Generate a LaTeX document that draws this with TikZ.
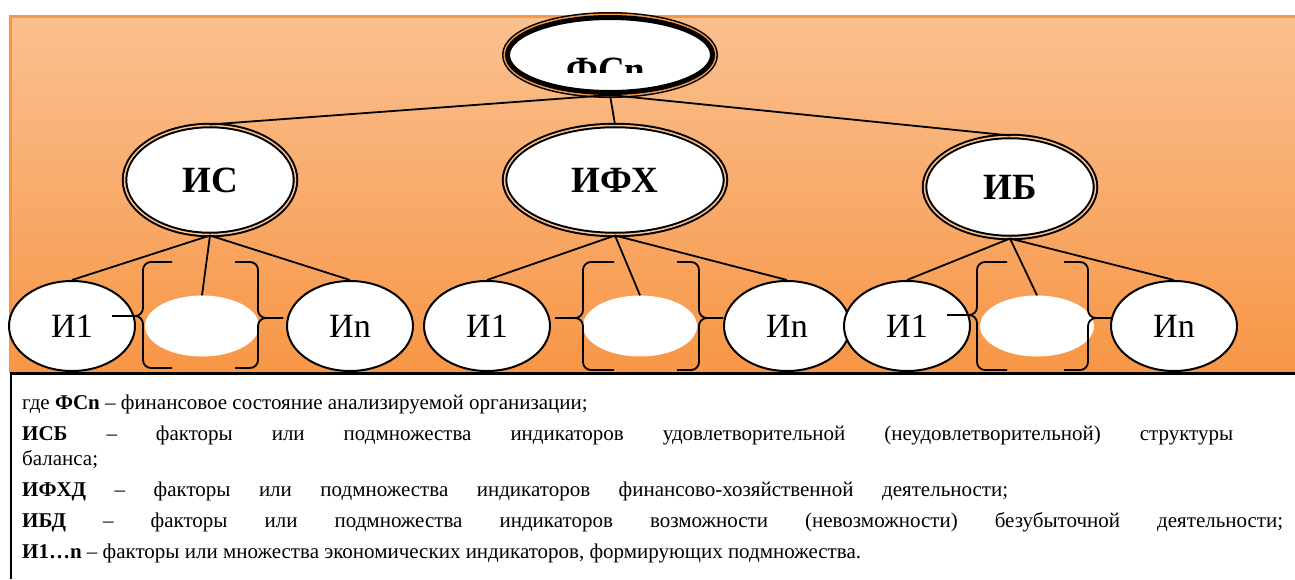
\documentclass[tikz,border=0pt]{standalone}
\usepackage{fontspec}
\setmainfont{Liberation Serif}
\usetikzlibrary{shapes.geometric}
\definecolor{panellight}{HTML}{FAC090}
\definecolor{paneldark}{HTML}{F79646}

\begin{document}
\begin{tikzpicture}[x=1pt, y=-1pt,
        level distance=125pt,
        level 1/.style={sibling distance=400pt},
        level 2/.style={sibling distance=148pt, level distance=146pt},
        parent anchor=south, child anchor=north,
        edge from parent/.style={draw, line width=1.8pt},
        topnode/.style={ellipse, fill=white, draw, line width=5pt, inner sep=0pt,
            minimum width=205pt, minimum height=75pt,
            preaction={draw, line width=11pt},
            preaction={draw=paneldark, line width=8pt}},
        midnode/.style={ellipse, fill=white, draw, line width=2pt, inner sep=0pt,
            double=panellight, double distance=1.5pt, minimum height=109pt,
            font=\fontsize{37}{40}\selectfont\bfseries},
        leafnode/.style={ellipse, fill=white, draw, line width=2pt, inner sep=0pt,
            minimum width=126pt, minimum height=90pt, font=\fontsize{34}{36}\selectfont},
        blanknode/.style={ellipse, fill=white, inner sep=0pt,
            minimum width=114pt, minimum height=61pt},
        curl/.style={rounded corners=8pt, line width=1.8pt}
        ]
        \useasboundingbox (0,0) rectangle (1295,579);
        % panel and legend frame
        \shade[top color=panellight, bottom color=paneldark] (10.5,16.5) rectangle (1295,373);
        \draw[paneldark, line width=3pt] (10.5,373) -- (10.5,16.5) -- (1295,16.5);
        \draw[line width=2.5pt] (11,579) -- (11,373.5) -- (1295,373.5);

        \node[topnode, path picture={
            \clip (path picture bounding box.north west) rectangle ([yshift=-54.5pt]path picture bounding box.north east);
            \node[anchor=base, xshift=-4pt, yshift=-27pt, font=\fontsize{37}{40}\selectfont\bfseries] (fsntext)
                at (path picture bounding box.center) {ФСn};
            }] (fsn) at (610,55) {}
        child {node[midnode, minimum width=171pt] (is) {ИС}
            child {node[leafnode, xshift=10pt] (is1) {И1}}
            child {node[blanknode, xshift=-8pt] (is0) {}}
            child {node[leafnode, xshift=-8pt] (isn) {Иn}}
        }
        child {node[midnode, minimum width=221pt, xshift=5pt] (ifx) {ИФХ}
            child {node[leafnode, xshift=20pt] (ifx1) {И1}}
            child {node[blanknode, xshift=25pt] (ifx0) {}}
            child {node[leafnode, xshift=24pt] (ifxn) {Иn}}
        }
        child {node[midnode, minimum width=171pt, minimum height=101pt, yshift=-7pt] (ib) {ИБ}
            child {node[leafnode, xshift=45pt, yshift=7pt] (ib1) {И1}}
            child {node[blanknode, xshift=27pt, yshift=7pt] (ib0) {}}
            child {node[leafnode, xshift=16pt, yshift=7pt] (ibn) {Иn}}
        };

        % braces round the middle ellipses
        \draw[curl] (172,262) -- (143,262) -- (143,316) -- (112,316);
        \draw[curl] (112,316) -- (143,316) -- (143,368) -- (172,368);
        \draw[curl] (235,262) -- (258,262) -- (258,318) -- (283,318);
        \draw[curl] (283,318) -- (258,318) -- (258,368) -- (235,368);

        \draw[curl] (614,262) -- (583,262) -- (583,318) -- (555,318);
        \draw[curl] (555,318) -- (583,318) -- (583,370) -- (614,370);
        \draw[curl] (677,262) -- (699,262) -- (699,318) -- (723,318);
        \draw[curl] (723,318) -- (699,318) -- (699,370) -- (677,370);

        \draw[curl] (1007,262) -- (977,262) -- (977,315) -- (947,315);
        \draw[curl] (947,315) -- (977,315) -- (977,370) -- (1007,370);
        \draw[curl] (1064,262) -- (1088,262) -- (1088,318) -- (1112,318);
        \draw[curl] (1112,318) -- (1088,318) -- (1088,370) -- (1064,370);

        \node[anchor=north west, align=left, inner sep=0pt, font=\fontsize{21}{25}\selectfont] (legend) at (22,395)
            {где \textbf{ФСn} – финансовое состояние анализируемой организации;\\[6pt]
            \makebox[1211pt][s]{\textbf{ИСБ} – факторы или подмножества индикаторов удовлетворительной (неудовлетворительной) структуры}\\
            баланса;\\[6pt]
            \makebox[986pt][s]{\textbf{ИФХД} – факторы или подмножества индикаторов финансово-хозяйственной деятельности;}\\[6pt]
            \makebox[1261pt][s]{\textbf{ИБД} – факторы или подмножества индикаторов возможности (невозможности) безубыточной деятельности;}\\[6pt]
            \textbf{И1…n} – факторы или множества экономических индикаторов, формирующих подмножества.};
    \end{tikzpicture}
\end{document}
